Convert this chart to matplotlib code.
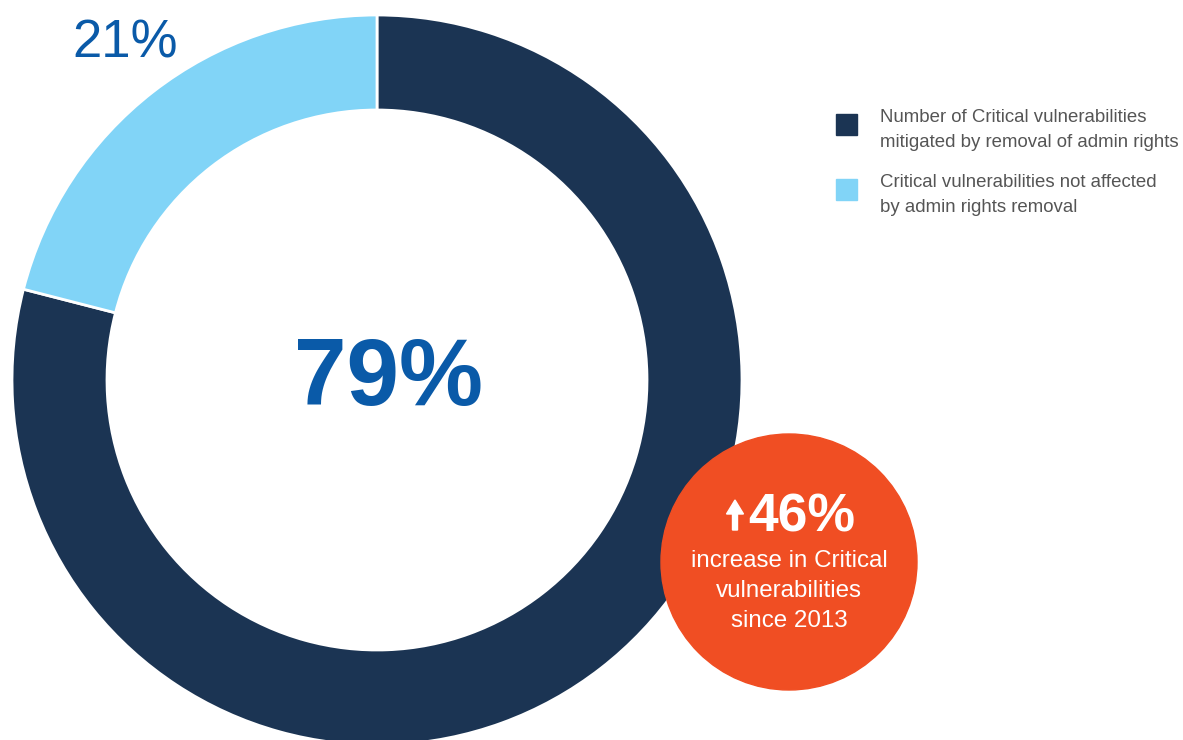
import matplotlib.pyplot as plt
from matplotlib.patches import Circle, Rectangle, FancyArrow

plt.rcParams['font.family'] = ['Liberation Sans', 'DejaVu Sans']

labels = ['Number of Critical vulnerabilities\nmitigated by removal of admin rights',
          'Critical vulnerabilities not affected\nby admin rights removal']
shares = [79, 21]
colors = ['#1B3453', '#81D4F7']
increase = 46
increase_text = 'increase in Critical\nvulnerabilities\nsince 2013'

fig = plt.figure(figsize=(11.83, 7.40), dpi=100)
ax = fig.add_axes([0, 0, 1, 1])

# donut, dark share clockwise from 12 o'clock
ax.pie(shares, colors=colors, startangle=90, counterclock=False,
       center=(377, 360), radius=365, frame=True,
       wedgeprops=dict(width=95, edgecolor='white', linewidth=2))
ax.set_xlim(0, 1183)
ax.set_ylim(0, 740)
ax.set_aspect('equal')
ax.axis('off')

ax.text(389, 335, f'{shares[0]}%', ha='center', va='baseline', fontsize=68,
        fontweight='bold', color='#0A5AA8')
ax.text(125, 682, f'{shares[1]}%', ha='center', va='baseline', fontsize=38,
        color='#0A5AA8')

# legend
for i, (lab, c) in enumerate(zip(labels, colors)):
    y = 615 - i * 65
    ax.add_patch(Rectangle((836, y - 10), 21, 21, color=c))
    ax.text(880, y - 5, lab, ha='left', va='center', fontsize=13.4,
            color='#555555', linespacing=1.55)

# orange badge
ax.add_patch(Circle((789, 178), 128, color='#F04E23', zorder=5))
ax.add_patch(FancyArrow(735, 210, 0, 30, width=5, head_width=17,
                        head_length=14, length_includes_head=True,
                        color='white', zorder=6))
ax.text(802, 208, f'{increase}%', ha='center', va='baseline', fontsize=38.5,
        fontweight='bold', color='white', zorder=6)
ax.text(789, 149, increase_text, ha='center', va='center', fontsize=17.4,
        color='white', linespacing=1.45, zorder=6)

fig.savefig('out.png', dpi=100)
